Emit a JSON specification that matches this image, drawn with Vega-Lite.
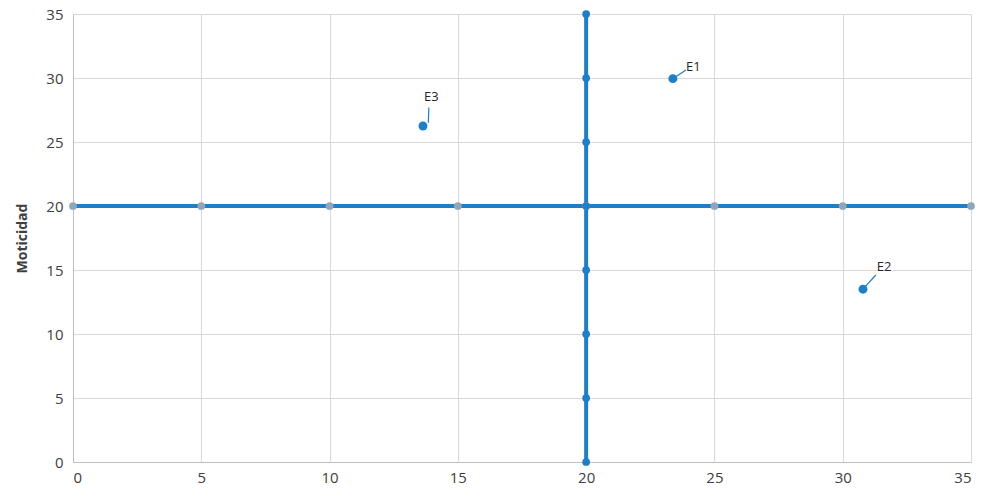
{
  "$schema": "https://vega.github.io/schema/vega-lite/v6.json",
  "width": 898,
  "height": 448,
  "autosize": "none",
  "padding": {"left": 73, "top": 14, "right": 11, "bottom": 40},
  "background": "white",
  "config": {
    "view": {"stroke": null},
    "font": "Open Sans",
    "axis": {
      "grid": true,
      "gridColor": "#d9d9d9",
      "gridWidth": 1,
      "domainColor": "#bfbfbf",
      "ticks": false,
      "labelFont": "Open Sans",
      "labelFontSize": 15,
      "labelColor": "#404040",
      "titleFont": "Open Sans",
      "titleFontSize": 14,
      "titleColor": "#404040"
    }
  },
  "datasets": {
    "lines": [
      {"serie": "h", "x": 0, "y": 20},
      {"serie": "h", "x": 5, "y": 20},
      {"serie": "h", "x": 10, "y": 20},
      {"serie": "h", "x": 15, "y": 20},
      {"serie": "h", "x": 20, "y": 20},
      {"serie": "h", "x": 25, "y": 20},
      {"serie": "h", "x": 30, "y": 20},
      {"serie": "h", "x": 35, "y": 20},
      {"serie": "v", "x": 20, "y": 0},
      {"serie": "v", "x": 20, "y": 5},
      {"serie": "v", "x": 20, "y": 10},
      {"serie": "v", "x": 20, "y": 15},
      {"serie": "v", "x": 20, "y": 20},
      {"serie": "v", "x": 20, "y": 25},
      {"serie": "v", "x": 20, "y": 30},
      {"serie": "v", "x": 20, "y": 35}
    ],
    "pts": [
      {"label": "E1", "x": 23.38, "y": 29.95, "sx": 23.38, "sy": 29.95, "lx": 23.89, "ly": 30.63, "tx": 23.89, "ty": 30.86},
      {"label": "E2", "x": 30.79, "y": 13.5, "sx": 30.79, "sy": 13.5, "lx": 31.29, "ly": 14.61, "tx": 31.33, "ty": 15.23},
      {"label": "E3", "x": 13.64, "y": 26.25, "sx": 13.85, "sy": 26.5, "lx": 13.87, "ly": 27.7, "tx": 13.68, "ty": 28.52}
    ]
  },
  "layer": [
    {
      "data": {"name": "lines"},
      "mark": {"type": "line", "color": "#1f7fc6", "strokeWidth": 4},
      "encoding": {
        "x": {"field": "x", "type": "quantitative", "scale": {"domain": [0, 35]}, "axis": {"values": [0,5,10,15,20,25,30,35], "title": null, "labelPadding": 8}},
        "y": {"field": "y", "type": "quantitative", "scale": {"domain": [0, 35]}, "axis": {"values": [0,5,10,15,20,25,30,35], "title": "Moticidad", "titleFontWeight": "bold", "labelPadding": 10, "titlePadding": 16}},
        "detail": {"field": "serie"}
      }
    },
    {
      "data": {"name": "lines"},
      "transform": [{"filter": "datum.serie == 'h'"}],
      "mark": {"type": "circle", "color": "#8fa7b8", "opacity": 1, "size": 60},
      "encoding": {
        "x": {"field": "x", "type": "quantitative"},
        "y": {"field": "y", "type": "quantitative"}
      }
    },
    {
      "data": {"name": "lines"},
      "transform": [{"filter": "datum.serie == 'v'"}],
      "mark": {"type": "circle", "color": "#1f7fc6", "opacity": 1, "size": 60},
      "encoding": {
        "x": {"field": "x", "type": "quantitative"},
        "y": {"field": "y", "type": "quantitative"}
      }
    },
    {
      "data": {"name": "pts"},
      "mark": {"type": "rule", "color": "#1f7fc6", "strokeWidth": 1.2},
      "encoding": {
        "x": {"field": "sx", "type": "quantitative"},
        "y": {"field": "sy", "type": "quantitative"},
        "x2": {"field": "lx"},
        "y2": {"field": "ly"}
      }
    },
    {
      "data": {"name": "pts"},
      "mark": {"type": "circle", "color": "#1f7fc6", "opacity": 1, "size": 80},
      "encoding": {
        "x": {"field": "x", "type": "quantitative"},
        "y": {"field": "y", "type": "quantitative"}
      }
    },
    {
      "data": {"name": "pts"},
      "mark": {"type": "text", "align": "left", "baseline": "middle", "fontSize": 13, "color": "#262626", "font": "Open Sans"},
      "encoding": {
        "x": {"field": "tx", "type": "quantitative"},
        "y": {"field": "ty", "type": "quantitative"},
        "text": {"field": "label"}
      }
    }
  ]
}
